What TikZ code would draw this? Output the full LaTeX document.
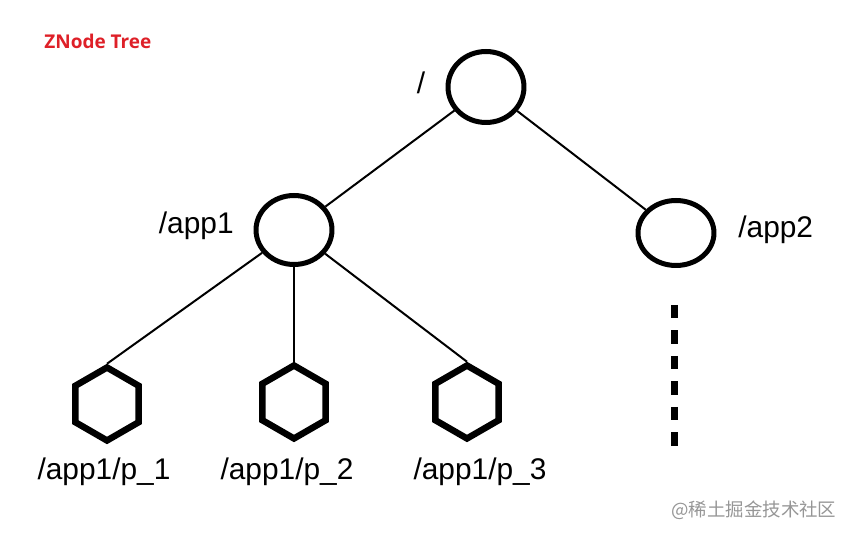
\documentclass[tikz,border=0pt]{standalone}
\usepackage{fontspec}
\setmainfont{Liberation Sans}
\newfontfamily\titlefont{Open Sans}
\newfontfamily\cjk{Noto Sans CJK SC}
\usetikzlibrary{shapes.geometric}
\definecolor{titlered}{RGB}{222,32,40}
\definecolor{wmgray}{RGB}{150,150,150}
\tikzset{
  znode/.style={ellipse, draw, line width=0.1cm, minimum width=1.52cm, minimum height=1.42cm, inner sep=0pt},
  leaf/.style={regular polygon, regular polygon sides=6, shape border rotate=30, draw, line width=0.13cm, minimum size=1.46cm, inner sep=0pt},
  edge/.style={line width=0.04cm},
  lbl/.style={font=\fontsize{17}{20}\selectfont, inner sep=0pt},
}
\begin{document}
\begin{tikzpicture}[x=0.02cm,y=-0.02cm]
\useasboundingbox (0,0) rectangle (850,536);
\node[font=\titlefont\bfseries\fontsize{10.8}{12}\selectfont, text=titlered, anchor=west, inner sep=0pt] (title) at (44,41) {ZNode Tree};
\node[znode] (root) at (486,87) {};
\node[znode, minimum height=1.38cm] (app1) at (294,230) {};
\node[znode, minimum height=1.3cm] (app2) at (676,233) {};
\node[leaf] (p1) at (107,404) {};
\node[leaf] (p2) at (294,402) {};
\node[leaf] (p3) at (467,402) {};
\node[lbl] (lroot) at (421,83) {/};
\node[lbl, anchor=east] (lapp1) at (234,226) {/app1};
\node[lbl, anchor=west] (lapp2) at (738,230) {/app2};
\node[lbl] (lp1) at (104,472) {/app1/p\_1};
\node[lbl] (lp2) at (287,472) {/app1/p\_2};
\node[lbl] (lp3) at (480,472) {/app1/p\_3};
\draw[edge] (root) -- (app1);
\draw[edge] (root) -- (app2);
\draw[edge] (app1) -- (p1.north);
\draw[edge] (app1.south) -- (p2.north);
\draw[edge] (app1) -- (p3.north);
\coordinate (dtop) at (674,305);
\coordinate (dbot) at (674,447);
\draw[line width=0.14cm, dash pattern=on 0.27cm off 0.24cm] (dtop) -- (dbot);
\node[font=\cjk\fontsize{10.5}{12}\selectfont, text=wmgray, anchor=west, inner sep=0pt] (wm) at (671,510) {@稀土掘金技术社区};
\end{tikzpicture}
\end{document}
